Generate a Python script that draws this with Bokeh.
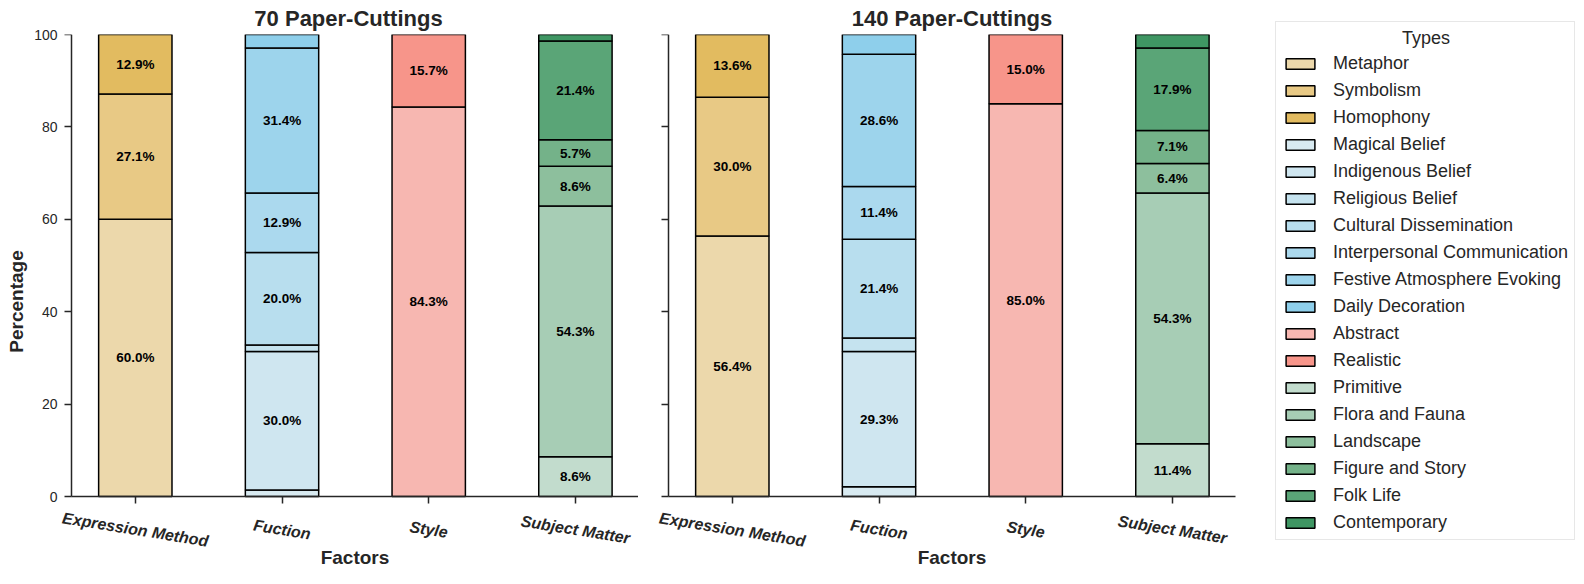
from bokeh.plotting import figure
from bokeh.layouts import row
from bokeh.models import (ColumnDataSource, FixedTicker, Legend, LegendItem,
                          Label, Range1d, LinearAxis)
from bokeh.core.properties import value
from bokeh.embed import file_html
from bokeh.resources import INLINE

# ---------------- data ----------------
factors = ["Expression Method", "Fuction", "Style", "Subject Matter"]

expression_types = ["Metaphor", "Symbolism", "Homophony"]
function_types = ["Magical Belief", "Indigenous Belief", "Religious Belief",
                  "Cultural Dissemination", "Interpersonal Communication",
                  "Festive Atmosphere Evoking", "Daily Decoration"]
style_types = ["Abstract", "Realistic"]
subject_types = ["Primitive", "Flora and Fauna", "Landscape",
                 "Figure and Story", "Folk Life", "Contemporary"]

expression_colors = ["#ecd8ab", "#e8c985", "#e2bb60"]
function_colors = ["#d8eaf1", "#cfe6f0", "#c5e3ef", "#b8deee", "#abd9ee",
                   "#9dd4ec", "#8ecfeb"]
style_colors = ["#f7b7b1", "#f7958a"]
subject_colors = ["#c2dccd", "#a7cdb5", "#8dbf9d", "#74b289", "#5aa577",
                  "#3f9663"]

expression_70 = [60.0, 27.1, 12.9]
function_70 = [1.4, 30.0, 1.4, 20.0, 12.9, 31.4, 2.9]
style_70 = [84.3, 15.7]
subject_70 = [8.6, 54.3, 8.6, 5.7, 21.4, 1.4]

expression_140 = [56.4, 30.0, 13.6]
function_140 = [2.1, 29.3, 2.9, 21.4, 11.4, 28.6, 4.3]
style_140 = [85.0, 15.0]
subject_140 = [11.4, 54.3, 6.4, 7.1, 17.9, 2.9]

y_ticks = [0, 20, 40, 60, 80, 100]

groups = [expression_types, function_types, style_types, subject_types]
group_colors = [expression_colors, function_colors, style_colors, subject_colors]

FONT = "Liberation Sans"
TXT = "#262626"
X0, X1 = -0.435, 3.43   # visible axis extent
FW = 567                # pixel width of the X0..X1 band
UNIT = FW / (X1 - X0)
PH = 462                # pixel height of the 0..100 band
EXT = 72                # extra frame pixels below y=0 for factor labels
Y_START = -100.0 * EXT / PH


def style_axis(ax):
    ax.axis_line_color = TXT
    ax.axis_line_width = 1.5
    ax.major_tick_line_color = TXT
    ax.major_tick_line_width = 1.5
    ax.major_tick_out = 7
    ax.major_tick_in = 0
    ax.minor_tick_line_color = None
    ax.major_label_text_font = FONT
    ax.major_label_text_color = TXT
    ax.axis_label_text_font = FONT
    ax.axis_label_text_font_style = "bold"
    ax.axis_label_text_font_size = "19px"
    ax.axis_label_text_color = TXT


def make_panel(title, group_values, bl, br, ext_left, ext_right, show_ylab):
    p = figure(frame_width=FW + ext_left + ext_right, frame_height=PH + EXT,
               x_range=Range1d(X0 - ext_left / UNIT, X1 + ext_right / UNIT),
               y_range=Range1d(Y_START, 100),
               output_backend="svg", toolbar_location=None,
               min_border_left=bl, min_border_right=br,
               min_border_top=34, min_border_bottom=0)
    p.grid.visible = False
    p.outline_line_color = None

    sources = []
    lx, ly, lt = [], [], []
    for i, (types, vals, cols) in enumerate(zip(groups, group_values, group_colors)):
        bottom = 0.0
        for t, v, c in zip(types, vals, cols):
            src = ColumnDataSource(dict(x=[i], bottom=[bottom], top=[bottom + v]))
            r = p.vbar(x="x", bottom="bottom", top="top", width=0.5, source=src,
                       fill_color=c, line_color="black", line_width=1.5)
            sources.append((t, r))
            if v >= 5:
                lx.append(i)
                ly.append(bottom + v / 2)
                lt.append(f"{v:.1f}%")
            bottom += v
    p.text(x=lx, y=ly, text=lt, text_font=value(FONT), text_font_style="bold",
           text_font_size=value("13.5px"), text_align="center",
           text_baseline="middle", text_color="black")

    p.title.text = title
    p.title.align = "center"
    p.title.text_font = FONT
    p.title.text_font_size = "22px"
    p.title.text_font_style = "bold"
    p.title.text_color = TXT
    p.title.standoff = 7

    style_axis(p.xaxis[0])
    xt = list(range(len(factors)))
    p.xaxis.ticker = FixedTicker(ticks=xt)
    p.xaxis.fixed_location = 0
    p.xaxis.bounds = (X0, X1)
    p.xaxis.major_label_overrides = {t: "" for t in xt}
    p.xaxis.major_label_standoff = 0

    ya = p.yaxis[0]
    style_axis(ya)
    ya.ticker = FixedTicker(ticks=y_ticks)
    ya.bounds = (0, 100)
    if show_ylab:
        # label-only axis at the frame edge
        ya.axis_line_color = None
        ya.major_tick_line_color = None
        ya.major_tick_out = 0
        ya.major_label_standoff = 1
        ya.major_label_text_font_size = "14px"
        ya.axis_label = "Percentage"
        ya.axis_label_standoff = 4
        # spine + ticks at the data position X0
        spine = LinearAxis(ticker=FixedTicker(ticks=y_ticks), bounds=(0, 100),
                           fixed_location=X0,
                           major_label_overrides={t: "" for t in y_ticks},
                           major_label_standoff=0)
        style_axis(spine)
        p.add_layout(spine, "left")
    else:
        ya.fixed_location = X0
        ya.major_label_standoff = 0
        ya.major_label_overrides = {t: "" for t in y_ticks}

    for i, name in enumerate(factors):
        p.add_layout(Label(x=i, y=EXT - 33, y_units="screen", text=name,
                           angle=-0.16, text_align="center",
                           text_baseline="middle", text_font=FONT,
                           text_font_style="bold italic", text_font_size="16px",
                           text_color=TXT))
    p.add_layout(Label(x=(X0 + X1) / 2, y=EXT - 61, y_units="screen",
                       text="Factors", text_align="center",
                       text_baseline="middle", text_font=FONT,
                       text_font_style="bold", text_font_size="19px",
                       text_color=TXT))
    return p, sources


p1, _ = make_panel("70 Paper-Cuttings",
                   [expression_70, function_70, style_70, subject_70],
                   58, 0, 13, 0, True)
p2, rends = make_panel("140 Paper-Cuttings",
                       [expression_140, function_140, style_140, subject_140],
                       14, 325, 16, 16, False)

items = [LegendItem(label=t, renderers=[r]) for t, r in rends]
legend = Legend(items=items, location=(24, 28), margin=0, padding=6,
                spacing=6, label_height=21, glyph_height=13, glyph_width=36,
                label_standoff=15, label_text_font=FONT,
                label_text_font_size="18px", label_text_color=TXT,
                border_line_color="#d0d0d0", border_line_width=1,
                background_fill_color="white", background_fill_alpha=1,
                title="\u00a0" * 24 + "Types", title_text_font=FONT,
                title_text_font_size="18px", title_text_font_style="normal",
                title_text_color=TXT, title_standoff=4)
p2.add_layout(legend, "right")

layout = row(p1, p2)
open("out.html", "w").write(file_html(layout, INLINE))
